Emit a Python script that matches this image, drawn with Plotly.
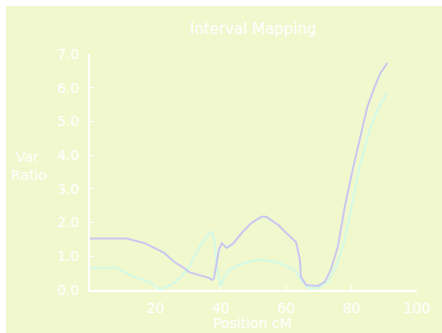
import plotly.graph_objects as go

# Data
pos_a = [0, 11.2, 16.7, 19.7, 22.7, 25.8, 28.8, 30.3, 33.3, 36.4, 37.3, 37.9, 38.5, 39.4, 40.3,
         41.8, 43.9, 46.4, 49.4, 52.4, 53.9, 57.6, 59.7, 61.5, 63.0, 64.2, 64.5, 66.1, 69.7,
         71.8, 73.6, 75.8, 77.9, 80.3, 82.7, 84.8, 87.0, 88.8, 90.9]
ratio_a = [1.53, 1.53, 1.39, 1.25, 1.10, 0.83, 0.65, 0.53, 0.45, 0.36, 0.30, 0.35, 0.68, 1.19, 1.39,
           1.25, 1.39, 1.69, 1.99, 2.17, 2.17, 1.93, 1.72, 1.57, 1.42, 0.89, 0.39, 0.15, 0.12,
           0.24, 0.59, 1.28, 2.46, 3.56, 4.54, 5.43, 6.02, 6.43, 6.73]

pos_b = [0, 8.2, 10.6, 13.6, 18.8, 20.6, 22.7, 25.8, 28.8, 30.3, 33.3, 35.5, 37.0, 37.9, 38.8,
         40.0, 40.9, 42.4, 45.5, 50.6, 53.6, 57.6, 62.7, 64.5, 66.7, 69.7, 72.7, 75.2, 77.9,
         80.3, 82.7, 85.8, 87.9, 90.9]
ratio_b = [0.66, 0.66, 0.53, 0.39, 0.21, 0.06, 0.05, 0.21, 0.50, 0.68, 1.25, 1.57, 1.72, 1.57, 0.68,
           0.09, 0.36, 0.59, 0.74, 0.89, 0.89, 0.81, 0.59, 0.30, 0.06, 0.05, 0.24, 0.68, 1.48,
           2.67, 3.77, 4.84, 5.34, 5.85]

x_ticks = [20, 40, 60, 80, 100]
x_labels = ["20", "40", "60", "80", "100"]
y_ticks = [0, 1, 2, 3, 4, 5, 6, 7]
y_labels = ["0.0", "1.0", "2.0", "3.0", "4.0", "5.0", "6.0", "7.0"]

BG = "#F2F8CE"
FONT = "DejaVu Sans"

fig = go.Figure()
fig.add_trace(go.Scatter(x=pos_b, y=ratio_b, mode="lines",
                         line=dict(color="#D2FAE6", width=2), showlegend=False))
fig.add_trace(go.Scatter(x=pos_a, y=ratio_a, mode="lines",
                         line=dict(color="#C8C8F0", width=2), showlegend=False))

OFF = 6  # page offset of the figure (white border at top and left)
W, H = 442 - OFF, 333 - OFF
L, R, T, B = 90 - OFF, 442 - 420, 54 - OFF, 333 - 290
pw, ph = W - L - R, H - T - B

def px2x(p):
    return (p - OFF - L) / pw

def py2y(p):
    return (H - B - (p - OFF)) / ph

ann = dict(showarrow=False, font=dict(family=FONT, color="white", size=14),
           xref="paper", yref="paper")
fig.add_annotation(text="Interval Mapping", x=px2x(255), y=py2y(29), xanchor="center",
                   yanchor="middle", **{**ann, "font": dict(family=FONT, color="white", size=15)})
fig.add_annotation(text="Position cM", x=px2x(254), y=py2y(323), xanchor="center",
                   yanchor="middle", **ann)
fig.add_annotation(text="Var", x=px2x(27), y=py2y(157), xanchor="center",
                   yanchor="middle", **ann)
fig.add_annotation(text="Ratio", x=px2x(28), y=py2y(175), xanchor="center",
                   yanchor="middle", **ann)

fig.update_layout(
    width=W, height=H,
    margin=dict(l=L, r=R, t=T, b=B, pad=0),
    paper_bgcolor=BG,
    plot_bgcolor=BG,
    font=dict(family=FONT, color="white", size=14),
    xaxis=dict(range=[0, 100], tickvals=x_ticks, ticktext=x_labels,
               showgrid=False, zeroline=False, showline=True, linecolor="white",
               linewidth=1.5, ticks="inside", ticklen=4, tickcolor="white",
               tickfont=dict(family=FONT, color="white", size=14), ticklabelstandoff=4),
    yaxis=dict(range=[0, 7], tickvals=y_ticks, ticktext=y_labels,
               showgrid=False, zeroline=False, showline=True, linecolor="white",
               linewidth=1.5, ticks="inside", ticklen=4, tickcolor="white",
               tickfont=dict(family=FONT, color="white", size=14), ticklabelstandoff=6),
)

page_js = (f"document.body.style.margin='{OFF}px 0 0 {OFF}px';"
           "document.body.style.overflow='hidden';"
           "document.documentElement.style.overflow='hidden';")
fig.write_html("out.html", default_width=f"{W}px", default_height=f"{H}px",
               post_script=page_js)
